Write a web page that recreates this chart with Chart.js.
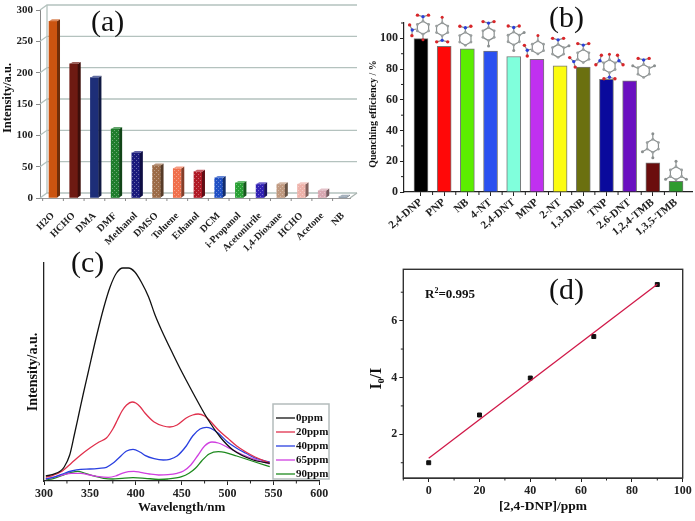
<!DOCTYPE html>
<html><head><meta charset="utf-8">
<script src="https://cdn.jsdelivr.net/npm/chart.js@4"></script>
<style>
html,body{margin:0;padding:0;background:#fff;width:695px;height:521px;overflow:hidden}
canvas{position:absolute;left:0;top:0}
.tag{position:absolute;font-family:"Liberation Serif",serif;color:#111;white-space:nowrap;line-height:1}
</style></head><body>
<canvas id="a" width="695" height="521"></canvas>
<canvas id="b" width="695" height="521"></canvas>
<canvas id="c" width="695" height="521"></canvas>
<canvas id="d" width="695" height="521"></canvas>
<div class="tag" style="left:91px;top:6px;font-size:30px">(a)</div>
<div class="tag" style="left:549px;top:2px;font-size:30px">(b)</div>
<div class="tag" style="left:71px;top:247px;font-size:30px">(c)</div>
<div class="tag" style="left:549px;top:274px;font-size:30px">(d)</div>
<div class="tag" style="left:425px;top:287px;font-size:13px;font-weight:bold">R<sup style="font-size:8px;line-height:0">2</sup>=0.995</div>
<script>
// ---------- panel (a)
const solvents = ['H2O','HCHO','DMA','DMF','Methanol','DMSO','Toluene','Ethanol','DCM','i-Propanol','Acetonitrile','1,4-Dioxane','HCHO','Acetone','NB'];
const solventIntensity = [282,214,192,110,72,52,47,42,32,24,22,22,22,12,2];
const solventColors = ['#cb5410','#6e1a12','#1d2e78','#1f7d2c','#1a1a7c','#9c6c48','#f0704c','#b01a26','#2050c4','#28a034','#3222b4','#c09a80','#eeb2aa','#d8a8b2','#8090a0'];
const solventTicks = [0,50,100,150,200,250,300];
// ---------- panel (b)
const analytes = ['2,4-DNP','PNP','NB','4-NT','2,4-DNT','MNP','2-NT','1,3-DNB','TNP','2,6-DNT','1,2,4-TMB','1,3,5-TMB'];
const quenching = [99.8,94.8,93.2,91.7,88.2,86.3,82.1,81.3,73.4,72.3,19,7];
const analyteColors = ['#000000','#ff0808','#5cee00','#2a50f0','#80ffdc','#c030f0','#fcfc10','#6b7010','#0a0a9c','#6a10c0','#6b0d0d','#2f9b2f'];
const quenchTicks = [0,20,40,60,80,100];
// molecule sketches above the bars: [dx, dy, substituents as [kind, angle]]
const molecules = [
 [2,-11,[['n',0],['n',258],['o',180]]],
 [-2,-17,[['n',180],['o',0]]],
 [-2,-10,[['n',0]]],
 [-2,-17,[['n',0],['m',180]]],
 [0,-18,[['n',0],['m',60],['m',180]]],
 [1,-12,[['o',0],['n',255]]],
 [-2,-15,[['n',0],['m',65]]],
 [0,-11,[['n',0],['n',240]]],
 [3,-13,[['o',0],['n',300],['n',60],['n',180]]],
 [14,-10,[['n',0],['m',65],['m',295]]],
 [0,-17,[['m',0],['m',240],['m',180]]],
 [0,-8,[['m',0],['m',240],['m',120]]]
];
// ---------- panel (c)
const wl0 = [302,310,318,322,328,333,338,343,348,357,365,372,379,386,392,399,406,414,421,428,441,448,456,463,477,492,506,528,546];
const int0 = [5,6.7,10,14,26,46,67,88,108,144,173,194,208,213,213,209,199,184,166,151,126,113,99,87,64,44,31,21,17.7];
const wl20 = [302,310,320,330,340,350,360,368,375,380,385,390,396,400,405,410,420,430,437,445,455,462,468,475,480,490,500,510,520,530,546];
const int20 = [3.7,5.7,10,18,26,33,39,43,52,61,70,76,79,78,74,68,59,55,54,56,63,66,67,65,61,51,43,35,29,24,18];
const wl40 = [302,310,320,330,340,350,360,368,375,380,390,397,405,410,420,430,437,445,455,462,470,477,482,490,500,510,520,530,546];
const int40 = [2.3,3.7,7,10,11.7,12,12.7,13.7,17.7,21.7,30,31.7,28.7,25.7,22.3,21,21.7,25,35,45,52,53.7,52.7,47.7,39,32.7,27.7,23,19];
const wl65 = [302,310,320,330,340,350,360,370,378,385,392,398,405,415,425,435,445,452,460,468,475,483,490,500,510,520,530,546];
const int65 = [2,3.7,6,7.7,7.7,6,4.3,3.7,5,7.7,9.3,9.7,8.7,7,6,6.3,7.7,10,16,26,35,39,38,33.7,29,25,21.7,17];
const wl90 = [302,310,320,330,337,345,355,365,375,385,397,410,425,435,450,458,465,472,480,490,497,510,520,530,546];
const int90 = [1.3,2.3,5.7,8.7,9.7,7.7,5,2.7,2,2.7,3.3,2.7,1.7,2,4.3,7.7,12.7,20.3,27,29.3,28.7,25,22,19,14.3];
const wavelengthTicks = [300,350,400,450,500,550,600];
const wavelengthMinor = [325,375,425,475,525,575];
const seriesNames = ['0ppm','20ppm','40ppm','65ppm','90ppm'];
const seriesColors = ['#111111','#e0304c','#2a40e0','#d040e0','#1e8a1e'];
// ---------- panel (d)
const conc = [0,20,40,65,90];
const ratio = [1,2.68,3.98,5.44,7.27];
const fitConc = [0,90];
const fitRatio = [1.155,7.28];
const concTicks = [0,20,40,60,80,100];
const concMinor = [-10,10,30,50,70,90];
const ratioTicks = [2,4,6];
const ratioMinor = [1,3,5,7];

const SERIF = '"Liberation Serif","Times New Roman",serif';
const bold = s => ({family:SERIF, size:s, weight:'bold'});
const INK = '#222';
const pairs = (xs,ys) => xs.map((x,i)=>({x, y:ys[i]}));
const fixed = list => s => { s.ticks = list.map(v=>({value:v})); };
const idx = arr => arr.map((_,i)=>i);
function outer(chartTop, chartRight, chartLeft, chartBottom, leftEdge, bottomEdge){
  return {
    layout:{padding:{left:leftEdge, top:chartTop, right:695-chartRight, bottom:521-bottomEdge}},
    xFit:s=>{s.height=bottomEdge-chartBottom;},
    yFit:s=>{s.width=chartLeft-leftEdge;}
  };
}
const shade = (hex,f) => {
  const n=parseInt(hex.slice(1),16), c=[n>>16,(n>>8)&255,n&255];
  return 'rgb('+c.map(v=>Math.round(f<1?v*f:v+(255-v)*(f-1))).join(',')+')';
};
function dotted(ctx,hex){
  const p=document.createElement('canvas'); p.width=p.height=4;
  const g=p.getContext('2d');
  g.fillStyle=hex; g.fillRect(0,0,4,4);
  g.fillStyle=shade(hex,1.35); g.fillRect(0,0,1,1); g.fillRect(2,2,1,1);
  return ctx.createPattern(p,'repeat');
}
// nudges a y-axis title along the axis without touching the axis itself
const titleShift = {id:'titleShift', afterUpdate(ch,_,o){
  const s=ch.scales.y, d=o.by||0; if(!d||s._shifted) return;
  const orig=s.drawTitle.bind(s); s._shifted=true;
  s.drawTitle=function(){const t=s.top,b=s.bottom; s.top=t+d; s.bottom=b+d; orig(); s.top=t; s.bottom=b;};
}};
// minor tick marks on axes
const minorPlugin = {id:'minor', afterDraw(ch,_,o){
  const c=ch.ctx; c.save(); c.strokeStyle=o.color||INK; c.lineWidth=o.width||1;
  (o.x||[]).forEach(v=>{const p=ch.scales.x.getPixelForValue(v),b=ch.chartArea.bottom;c.beginPath();c.moveTo(p,b);c.lineTo(p,b+(o.len||3));c.stroke();});
  (o.y||[]).forEach(v=>{const p=ch.scales.y.getPixelForValue(v),l=ch.chartArea.left;c.beginPath();c.moveTo(l,p);c.lineTo(l-(o.len||3),p);c.stroke();});
  c.restore();
}};
// 3D wall and floor for panel (a)
const wallPlugin = {id:'wall', beforeDatasetsDraw(ch){
  const c=ch.ctx, a=ch.chartArea, sy=ch.scales.y, dx=7, dy=5;
  c.save(); c.lineWidth=1.3; c.strokeStyle='#b4c2be';
  solventTicks.forEach(v=>{const p=sy.getPixelForValue(v);
    c.beginPath(); c.moveTo(a.left,p); c.lineTo(a.left+dx,p-dy); c.lineTo(a.right+dx,p-dy); c.stroke();});
  c.beginPath(); c.moveTo(a.left+dx,a.bottom-dy); c.lineTo(a.left+dx,a.top-dy); c.stroke();
  c.strokeStyle='#aab4b0';
  c.beginPath(); c.moveTo(a.right,a.bottom); c.lineTo(a.right+dx,a.bottom-dy); c.stroke();
  c.restore();
}, afterDatasetsDraw(ch){
  const c=ch.ctx, m=ch.getDatasetMeta(0), dx=3, dy=2;
  c.save();
  m.data.forEach((b,i)=>{
    const l=b.x-b.width/2, r=b.x+b.width/2, col=solventColors[i];
    c.fillStyle=shade(col,0.55);
    c.beginPath(); c.moveTo(r,b.y); c.lineTo(r+dx,b.y-dy); c.lineTo(r+dx,b.base-dy); c.lineTo(r,b.base); c.closePath(); c.fill();
    c.fillStyle=shade(col,1.3);
    c.beginPath(); c.moveTo(l,b.y); c.lineTo(l+dx,b.y-dy); c.lineTo(r+dx,b.y-dy); c.lineTo(r,b.y); c.closePath(); c.fill();
  });
  c.restore();
}};
// molecule sketches for panel (b)
const moleculePlugin = {id:'mol', afterDatasetsDraw(ch){
  const c=ch.ctx, m=ch.getDatasetMeta(0), R=6.5;
  const dot=(x,y,r,col)=>{c.fillStyle=col;c.beginPath();c.arc(x,y,r,0,7);c.fill();};
  const bond=(x1,y1,x2,y2)=>{c.strokeStyle='#8a8f8f';c.lineWidth=1.2;c.beginPath();c.moveTo(x1,y1);c.lineTo(x2,y2);c.stroke();};
  c.save();
  m.data.forEach((b,i)=>{
    const [dx,dy,subs]=molecules[i], cx=b.x+dx, cy=b.y+dy;
    const pt=(d,deg)=>{const t=deg*Math.PI/180;return [cx+d*Math.sin(t),cy-d*Math.cos(t)];};
    for(let k=0;k<6;k++){const p=pt(R,k*60),q=pt(R,k*60+60);bond(p[0],p[1],q[0],q[1]);}
    subs.forEach(([kind,ang])=>{
      const s=pt(R,ang), e=pt(kind==='n'?11:12,ang);
      bond(s[0],s[1],e[0],e[1]);
      if(kind==='n'){
        const t=ang*Math.PI/180, ox=Math.cos(t)*5.5, oy=Math.sin(t)*5.5, ux=Math.sin(t)*1.5, uy=-Math.cos(t)*1.5;
        [1,-1].forEach(sg=>{bond(e[0],e[1],e[0]+sg*ox+ux,e[1]+sg*oy+uy);dot(e[0]+sg*ox+ux,e[1]+sg*oy+uy,1.7,'#d8262a');});
        dot(e[0],e[1],1.7,'#2a3fd8');
      } else dot(e[0],e[1],1.5,kind==='o'?'#d8262a':'#8a8f8f');
    });
    for(let k=0;k<6;k++){const p=pt(R,k*60);dot(p[0],p[1],1.4,'#9a9f9f');}
  });
  c.restore();
}};
// legend box for panel (c)
const legendPlugin = {id:'box', afterDraw(ch){
  const c=ch.ctx, pxL=273, pxT=404, w=56, h=75;
  c.save();
  c.fillStyle='#fff'; c.strokeStyle='#b4bcbc'; c.lineWidth=1.5;
  c.fillRect(pxL,pxT,w,h); c.strokeRect(pxL,pxT,w,h);
  c.font='bold 11px '+SERIF; c.textBaseline='middle'; c.textAlign='left';
  ch.data.datasets.forEach((d,i)=>{
    const y=418+i*14;
    c.strokeStyle=d.borderColor; c.lineWidth=1.3;
    c.beginPath(); c.moveTo(276,y); c.lineTo(295,y); c.stroke();
    c.fillStyle='#111'; c.fillText(d.label,296,y);
  });
  c.restore();
}};
const framePlugin = {id:'frame', afterDraw(ch){
  const c=ch.ctx,a=ch.chartArea; c.save(); c.strokeStyle='#333'; c.lineWidth=1.4;
  c.strokeRect(a.left,a.top,a.right-a.left,a.bottom-a.top); c.restore();
}};
Chart.defaults.animation=false;
const base={responsive:false,devicePixelRatio:1,animation:false};

// (a)
const ctxA=document.getElementById('a').getContext('2d');
const La=outer(10,350,40,198,0,262);
new Chart(ctxA,{type:'bar',plugins:[wallPlugin,minorPlugin,titleShift],
 data:{labels:solvents,datasets:[{label:'Intensity',data:pairs(idx(solvents),solventIntensity),
   backgroundColor:solventColors.map((h,i)=>i>=3?dotted(ctxA,h):h),barThickness:8}]},
 options:{...base,layout:La.layout,plugins:{legend:{display:false},tooltip:{enabled:false},titleShift:{by:-6},
   minor:{x:[-.5,.5,1.5,2.5,3.5,4.5,5.5,6.5,7.5,8.5,9.5,10.5,11.5,12.5,13.5],len:3,color:'#888'}},
  scales:{
   x:{type:'linear',min:-0.628,max:14.34,offset:false,afterFit:La.xFit,afterBuildTicks:fixed(idx(solvents)),
     grid:{display:true,drawOnChartArea:false,drawTicks:false,offset:false},border:{color:'#999',width:1},
     ticks:{autoSkip:false,minRotation:45,maxRotation:45,padding:12,font:bold(10),color:'#222',callback:v=>solvents[v]}},
   y:{min:0,max:300,afterFit:La.yFit,afterBuildTicks:fixed(solventTicks),
     grid:{drawOnChartArea:false,tickLength:4,color:'#888'},border:{color:'#888',width:1},
     ticks:{font:bold(11),color:'#222',padding:3},
     title:{display:true,text:'Intensity/a.u.',font:bold(12.5),color:'#111',padding:0}}
  }}});

// (b)
const Lb=outer(23,692,404,192,367,250);
new Chart(document.getElementById('b'),{type:'bar',plugins:[moleculePlugin,minorPlugin,titleShift],
 data:{labels:analytes,datasets:[{label:'Quenching efficiency',data:pairs(idx(analytes),quenching),
   backgroundColor:analyteColors,borderColor:'#777',borderWidth:1,barThickness:14}]},
 options:{...base,layout:Lb.layout,plugins:{legend:{display:false},tooltip:{enabled:false},titleShift:{by:6.5},
   minor:{x:[.5,1.5,2.5,3.5,4.5,5.5,6.5,7.5,8.5,9.5,10.5],y:[10,30,50,70,90,110],len:3,color:'#222'}},
  scales:{
   x:{type:'linear',min:-0.733,max:11.69,offset:false,afterFit:Lb.xFit,afterBuildTicks:fixed(idx(analytes)),
     grid:{drawOnChartArea:false,tickLength:4,color:'#222',offset:false},border:{color:'#222',width:1.2},
     ticks:{autoSkip:false,minRotation:40,maxRotation:40,padding:0,font:bold(11),color:'#222',callback:v=>analytes[v]}},
   y:{min:0,max:110,afterFit:Lb.yFit,afterBuildTicks:fixed(quenchTicks),
     grid:{drawOnChartArea:false,tickLength:4,color:'#222'},border:{color:'#222',width:1.2},
     ticks:{font:bold(12),color:'#222',padding:2},
     title:{display:true,text:'Quenching efficiency / %',font:bold(10),color:'#111',padding:0}}
  }}});

// (c)
const Lc=outer(263,319.3,44,481,25,515);
const curves=[[wl0,int0],[wl20,int20],[wl40,int40],[wl65,int65],[wl90,int90]];
new Chart(document.getElementById('c'),{type:'line',plugins:[legendPlugin,minorPlugin],
 data:{datasets:curves.map((c,i)=>({label:seriesNames[i],data:pairs(c[0],c[1]),borderColor:seriesColors[i],
   borderWidth:1.3,pointRadius:0,cubicInterpolationMode:'monotone',fill:false}))},
 options:{...base,layout:Lc.layout,plugins:{legend:{display:false},tooltip:{enabled:false},
   minor:{x:wavelengthMinor,len:2.5,color:'#222'}},
  scales:{
   x:{type:'linear',min:300,max:600,afterFit:Lc.xFit,afterBuildTicks:fixed(wavelengthTicks),
     grid:{drawOnChartArea:false,tickLength:4,color:'#222'},border:{color:'#222',width:1.3},
     ticks:{font:bold(12),color:'#222',padding:2,maxRotation:0},
     title:{display:true,text:'Wavelength/nm',font:bold(13),color:'#111',padding:0}},
   y:{min:0,max:218,afterFit:Lc.yFit,
     grid:{drawOnChartArea:false,drawTicks:false},border:{color:'#222',width:1.3},
     ticks:{display:false},
     title:{display:true,text:'Intensity/a.u.',font:bold(14),color:'#111',padding:0}}
  }}});

// (d)
const Ld=outer(269.3,682.7,403.3,478,367.5,515);
new Chart(document.getElementById('d'),{type:'scatter',plugins:[framePlugin,minorPlugin,titleShift],
 data:{datasets:[
  {label:'Fit',type:'line',data:pairs(fitConc,fitRatio),borderColor:'#d01848',borderWidth:1.3,pointRadius:0,tension:0},
  {label:'I0/I',data:pairs(conc,ratio),backgroundColor:'#111',borderColor:'#111',pointStyle:'rect',pointRadius:2.8,showLine:false}
 ]},
 options:{...base,layout:Ld.layout,plugins:{legend:{display:false},tooltip:{enabled:false},titleShift:{by:5},
   minor:{x:concMinor,y:ratioMinor,len:2.5,color:'#222'}},
  scales:{
   x:{type:'linear',min:-10,max:100,afterFit:Ld.xFit,afterBuildTicks:fixed(concTicks),
     grid:{drawOnChartArea:false,tickLength:4,color:'#222'},border:{color:'#333',width:1},
     ticks:{font:bold(12),color:'#222',padding:2,maxRotation:0},
     title:{display:true,text:'[2,4-DNP]/ppm',font:bold(13.5),color:'#111',padding:0}},
   y:{min:0.463,max:7.806,afterFit:Ld.yFit,afterBuildTicks:fixed(ratioTicks),
     grid:{drawOnChartArea:false,tickLength:4,color:'#222'},border:{color:'#333',width:1},
     ticks:{font:bold(12),color:'#222',padding:2},
     title:{display:true,text:'I\u2080/I',font:bold(16),color:'#111',padding:0}}
  }}});
</script>
</body></html>
